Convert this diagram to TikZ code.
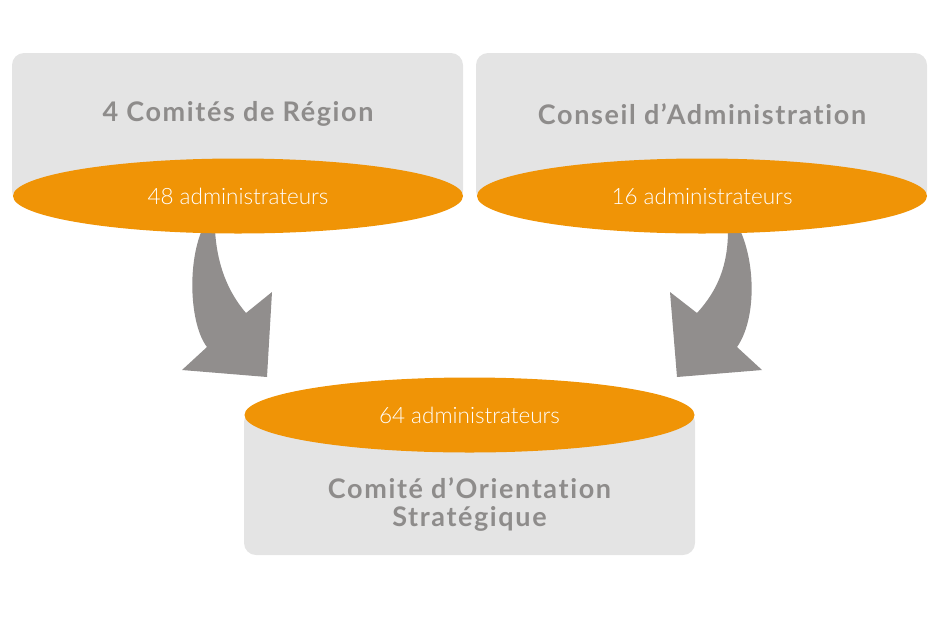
\documentclass[tikz,border=0pt]{standalone}
\usepackage{fontspec}
\setmainfont{Lato}
\newfontfamily\titlefont[LetterSpace=6,Ligatures=NoCommon]{Lato}
\newfontfamily\memfont{Lato Light}
\usetikzlibrary{shapes.geometric}
\definecolor{boxgrey}{HTML}{E4E4E4}
\definecolor{txtgrey}{HTML}{8E8C8B}
\definecolor{arrowgrey}{HTML}{918E8D}
\definecolor{orgorange}{HTML}{F09406}
\tikzset{
instance/.style={fill=boxgrey, rounded corners=12pt, minimum width=451pt, minimum height=150pt, inner sep=0pt},
title/.style={text=txtgrey, font=\titlefont\fontsize{27}{28}\selectfont\bfseries, align=center},
members/.style={ellipse, fill=orgorange, text=white, minimum width=450pt, minimum height=75pt, inner sep=0pt, font=\memfont\fontsize{22.5}{24}\selectfont},
bigarrow/.style={fill=arrowgrey}
}

\begin{document}
\begin{tikzpicture}[x=1pt,y=-1pt]
\useasboundingbox (0,0) rectangle (940,633);
\node[instance] (reg) at (237.5,128) {};
\node[instance] (ca) at (701.5,128) {};
\node[instance, minimum height=145pt] (cos) at (469.5,482.5) {};
\fill[bigarrow] (215,230) .. controls (217,265) and (228,292) .. (246,313)
 -- (272,292) -- (267,377) -- (182,370) -- (207,347)
 .. controls (190,325) and (187,265) .. (202,230) -- cycle;
\fill[bigarrow] (728,230) .. controls (728,265) and (718,290) .. (697,313)
 -- (670,292) -- (677,377) -- (762,370) -- (737,347)
 .. controls (756,320) and (756,265) .. (740,230) -- cycle;
\node[members] (regmem) at (238,196) {48 administrateurs};
\node[members] (camem) at (702,196) {16 administrateurs};
\node[members] (cosmem) at (469.5,415) {64 administrateurs};
\node[title] (regtitle) at (238,114) {4 Comités de Région};
\node[title] (catitle) at (702,114) {Conseil d’Administration};
\node[title] (costitle) at (469.5,505) {Comité d’Orientation\\Stratégique};
\end{tikzpicture}
\end{document}
